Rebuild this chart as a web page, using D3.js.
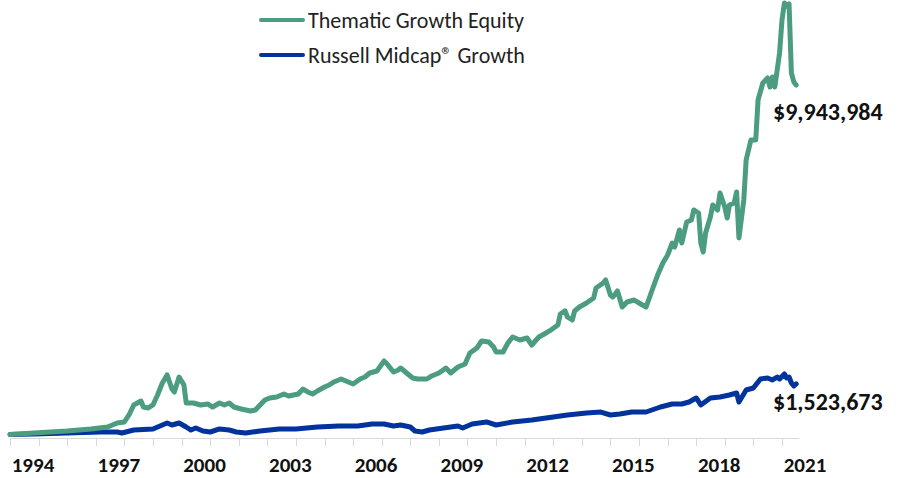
<!DOCTYPE html>
<html lang="en">
<head>
<meta charset="UTF-8">
<title>Growth of investment</title>
<script src="https://d3js.org/d3.v7.min.js"></script>
<style>
    body {
        margin: 0;
        background: #fff;
        font-family: Calibri, Carlito, Lato, sans-serif;
    }
    .axis path, .axis line {
        stroke: #d9d9d9;
        stroke-width: 1.5px;
        shape-rendering: crispEdges;
    }
    .year {
        font-weight: bold;
        font-size: 21px;
        fill: #111;
    }
    .legend text {
        font-size: 22px;
        fill: #222;
    }
    .endlabel {
        font-weight: bold;
        font-size: 24px;
        fill: #111;
    }
</style>
</head>
<body>
<div id="chart"></div>
<script>
// values in $ thousands
var greenDates = ["1994-01","1994-11","1996-01","1996-11","1997-06","1997-10","1998-01","1998-03","1998-05","1998-08",
    "1998-09","1998-11","1999-01","1999-03","1999-05","1999-07","1999-09","1999-10","1999-12","2000-02",
    "2000-03","2000-06","2000-09","2000-12","2001-02","2001-05","2001-07","2001-09","2001-11","2002-02",
    "2002-06","2002-08","2002-10","2002-12","2003-02","2003-05","2003-08","2003-10","2003-12","2004-02",
    "2004-04","2004-06","2004-08","2004-10","2005-01","2005-03","2005-05","2005-08","2005-11","2006-01",
    "2006-04","2006-06","2006-08","2006-11","2007-02","2007-03","2007-06","2007-08","2007-09","2007-12",
    "2008-02","2008-04","2008-08","2008-10","2009-01","2009-04","2009-06","2009-09","2009-11","2009-12",
    "2010-02","2010-05","2010-07","2010-10","2010-12","2011-01","2011-04","2011-06","2011-08","2011-11",
    "2012-02","2012-04","2012-07","2012-10","2012-12","2013-03","2013-04","2013-06","2013-07","2013-09",
    "2013-10","2013-12","2014-03","2014-06","2014-07","2014-10","2014-11","2015-01","2015-02","2015-04",
    "2015-06","2015-08","2015-11","2016-01","2016-04","2016-07","2016-09","2016-11","2017-01","2017-03",
    "2017-04","2017-06","2017-07","2017-09","2017-11","2017-12","2018-02","2018-03","2018-04","2018-05",
    "2018-07","2018-08","2018-10","2018-11","2019-01","2019-02","2019-03","2019-05","2019-06","2019-07",
    "2019-09","2019-10","2019-12","2020-02","2020-03","2020-05","2020-07","2020-08","2020-09","2020-10",
    "2020-12","2021-01","2021-02","2021-03","2021-04","2021-05","2021-06","2021-07"];
var greenValues = [100,141,197,254,310,423,451,648,930,1042,
    873,845,930,1211,1549,1775,1380,1296,1718,1493,
    986,986,930,958,873,986,930,986,873,817,
    761,789,930,1070,1127,1155,1239,1183,1211,1239,
    1380,1296,1239,1324,1437,1493,1578,1662,1578,1521,
    1662,1718,1831,1887,2169,2113,1859,1916,1972,1803,
    1690,1662,1662,1747,1831,1972,1831,2000,2056,2085,
    2394,2535,2732,2704,2563,2423,2423,2676,2845,2761,
    2817,2620,2845,2958,3042,3183,3493,3578,3409,3324,
    3578,3690,3803,3944,4226,4366,4451,4028,3972,4141,
    3690,3831,3887,3803,3690,4254,4620,4930,5155,5493,
    5380,5859,5493,6085,6141,6423,6338,5493,5240,5775,
    6226,6564,6423,6902,6507,6197,6564,6620,6930,5634,
    6704,7831,8395,8395,9521,10000,10141,9888,10169,9888,
    10845,11775,12254,12169,12226,10282,10029,9944];

var blueDates = ["1994-01","1994-11","1996-01","1997-03","1997-10","1997-12","1998-05","1999-01","1999-07","1999-09",
    "1999-12","2000-03","2000-05","2000-07","2000-10","2001-01","2001-05","2001-09","2001-12","2002-04",
    "2002-10","2003-06","2004-01","2004-10","2005-07","2006-03","2006-09","2007-02","2007-06","2007-09",
    "2008-01","2008-03","2008-06","2008-09","2009-03","2009-09","2009-11","2010-03","2010-09","2011-01",
    "2011-08","2012-04","2013-01","2013-07","2014-03","2014-09","2015-01","2015-05","2015-10","2016-04",
    "2016-10","2017-03","2017-07","2017-10","2018-01","2018-03","2018-07","2018-11","2019-03","2019-06",
    "2019-07","2019-10","2020-01","2020-04","2020-07","2020-09","2020-11","2020-12","2021-02","2021-03",
    "2021-04","2021-05","2021-06","2021-07"];
var blueValues = [100,113,141,169,169,141,225,254,423,366,
    423,310,225,282,197,169,254,225,169,141,
    197,254,254,310,338,338,394,394,338,366,
    310,197,169,225,282,338,282,394,451,366,
    451,507,592,648,704,732,648,676,732,732,
    873,958,958,1014,1127,930,1127,1155,1211,1268,
    1014,1352,1408,1662,1690,1634,1718,1662,1803,1690,
    1718,1549,1465,1524];

var seriesNames = ["Thematic Growth Equity", "Russell Midcap\u00AE Growth"];
var seriesColors = ["#4b9c80", "#00339b"];
var endLabels = ["$9,943,984", "$1,523,673"];
var tickYears = d3.range(1994, 2022);
var labelYears = [1994, 1997, 2000, 2003, 2006, 2009, 2012, 2015, 2018, 2021];

var width = 905,
    height = 478;

var parse = d3.timeParse("%Y-%m");

var svg = d3.select("#chart")
    .append("svg")
    .attr("width", width)
    .attr("height", height);

var x = d3.scaleTime()
    .domain([new Date(1994, 0, 1), new Date(2021, 0, 1)])
    .range([10, 782]);

var y = d3.scaleLinear()
    .domain([0, 12000])
    .range([438, 12]);

// axis: a tick every year, label every third year
var axis = svg.append("g")
    .attr("class", "axis")
    .attr("transform", "translate(0,438.5)");

axis.append("path")
    .attr("d", "M" + x(new Date(1994, 0, 1)) + ",0H" + x(new Date(2021, 7, 1)));

axis.selectAll("line")
    .data(tickYears)
    .enter().append("line")
    .attr("x1", function(d) { return Math.round(x(new Date(d, 0, 1))) + 0.5; })
    .attr("x2", function(d) { return Math.round(x(new Date(d, 0, 1))) + 0.5; })
    .attr("y1", 0)
    .attr("y2", 7);

svg.selectAll("text.year")
    .data(labelYears)
    .enter().append("text")
    .attr("class", "year")
    .attr("x", function(d) { return x(new Date(d, 0, 1)); })
    .attr("dx", 23)
    .attr("y", 472)
    .attr("text-anchor", "middle")
    .text(function(d) { return d; });

var line = d3.line()
    .x(function(d) { return x(d.date); })
    .y(function(d) { return y(d.value); });

var series = [
    greenDates.map(function(d, i) { return { date: parse(d), value: greenValues[i] }; }),
    blueDates.map(function(d, i) { return { date: parse(d), value: blueValues[i] }; })
];

// draw blue first so green sits on top where they overlap
[1, 0].forEach(function(k) {
    svg.append("path")
        .datum(series[k])
        .attr("fill", "none")
        .attr("stroke", seriesColors[k])
        .attr("stroke-width", 5)
        .attr("stroke-linejoin", "round")
        .attr("stroke-linecap", "round")
        .attr("d", line);
});

// end value labels
var endY = [119.5, 409.5];
svg.selectAll("text.endlabel")
    .data(endLabels)
    .enter().append("text")
    .attr("class", "endlabel")
    .attr("x", 773)
    .attr("y", function(d, i) { return endY[i]; })
    .text(function(d) { return d; });

// legend
var legend = svg.selectAll("g.legend")
    .data(seriesNames)
    .enter().append("g")
    .attr("class", "legend")
    .attr("transform", function(d, i) { return "translate(260," + (20 + i * 35) + ")"; });

legend.append("line")
    .attr("x1", 1)
    .attr("x2", 43)
    .attr("stroke", function(d, i) { return seriesColors[i]; })
    .attr("stroke-width", 4)
    .attr("stroke-linecap", "round");

legend.append("text")
    .attr("x", 48)
    .attr("y", 7.5)
    .text(function(d) { return d; });
</script>
</body>
</html>
